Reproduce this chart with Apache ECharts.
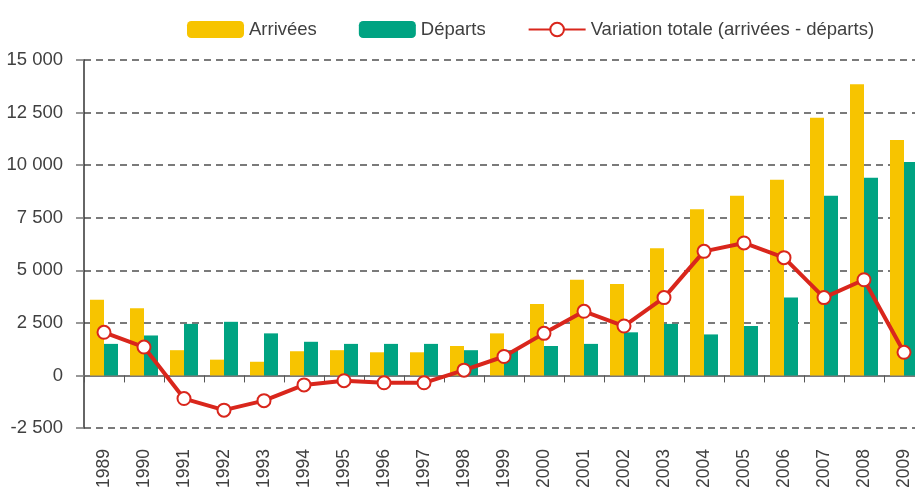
<!DOCTYPE html>
<html>
<head>
<meta charset="utf-8">
<script src="https://cdn.jsdelivr.net/npm/echarts@6/dist/echarts.min.js"></script>
<style>
  html, body { margin: 0; padding: 0; background: #fff; }
  #chart { width: 915px; height: 487px; }
</style>
</head>
<body>
<div id="chart"></div>
<script>
const years = ['1989','1990','1991','1992','1993','1994','1995','1996','1997','1998','1999','2000','2001','2002','2003','2004','2005','2006','2007','2008','2009'];
const arrivees = [3600,3200,1200,750,650,1150,1200,1100,1100,1400,2000,3400,4550,4350,6050,7900,8550,9300,12250,13850,11200];
const departs = [1500,1900,2450,2550,2000,1600,1500,1500,1500,1200,1200,1400,1500,2050,2450,1950,2350,3700,8550,9400,10150];
const variation = [2050,1350,-1100,-1650,-1200,-450,-250,-350,-350,250,900,2000,3050,2350,3700,5900,6300,5600,3700,4550,1100];
const seriesNames = ['Arrivées', 'Départs', 'Variation totale (arrivées - départs)'];

const FONT = "'Liberation Sans Narrow', 'Arial Narrow', 'Liberation Sans', Arial, sans-serif";
const fmt = v => {
  const s = Math.abs(v).toString().replace(/\B(?=(\d{3})+(?!\d))/g, ' ');
  return (v < 0 ? '-' : '') + s;
};

const chart = echarts.init(document.getElementById('chart'), null, { renderer: 'canvas' });
chart.setOption({
  animation: false,
  backgroundColor: '#fff',
  textStyle: { fontFamily: FONT },
  legend: {
    left: 182,
    top: 15,
    width: 740,
    itemWidth: 57,
    itemHeight: 17,
    itemGap: 42,
    textStyle: { fontFamily: FONT, fontSize: 18.5, color: '#404040' },
    data: seriesNames
  },
  grid: { left: 84, right: -9, top: 60, bottom: 59, containLabel: false, outerBoundsMode: 'none' },
  xAxis: {
    type: 'category',
    data: years,
    boundaryGap: true,
    axisLine: { onZero: true, lineStyle: { color: '#7a7a7a', width: 2 } },
    axisTick: { show: true, length: 7, lineStyle: { color: '#555', width: 1 } },
    axisLabel: {
      show: true,
      rotate: 90,
      margin: 21,
      interval: 0,
      fontFamily: FONT,
      fontSize: 17.5,
      color: '#404040',
      padding: [0, 0, 3, 0]
    },
    splitLine: { show: false }
  },
  yAxis: {
    type: 'value',
    min: -2500,
    max: 15000,
    interval: 2500,
    axisLine: { show: true, lineStyle: { color: '#333', width: 1.5 } },
    axisTick: { show: true, length: 8, lineStyle: { color: '#777', width: 1.5 } },
    axisLabel: { margin: 21, fontFamily: FONT, fontSize: 18.5, color: '#404040', formatter: fmt },
    splitLine: { show: true, lineStyle: { color: '#7a7a7a', width: 2, type: [7, 5] } }
  },
  series: [
    {
      name: seriesNames[0],
      type: 'bar',
      data: arrivees,
      barWidth: 14,
      barGap: '0%',
      itemStyle: { color: '#F7C400' },
      z: 2
    },
    {
      name: seriesNames[1],
      type: 'bar',
      data: departs,
      barWidth: 14,
      barGap: '0%',
      itemStyle: { color: '#00A382' },
      z: 2
    },
    {
      name: seriesNames[2],
      type: 'line',
      data: variation,
      symbol: 'circle',
      symbolSize: 13,
      showAllSymbol: true,
      lineStyle: { color: '#D9261C', width: 4 },
      itemStyle: { color: '#fff', borderColor: '#D9261C', borderWidth: 2 },
      z: 5
    }
  ]
});
</script>
</body>
</html>
